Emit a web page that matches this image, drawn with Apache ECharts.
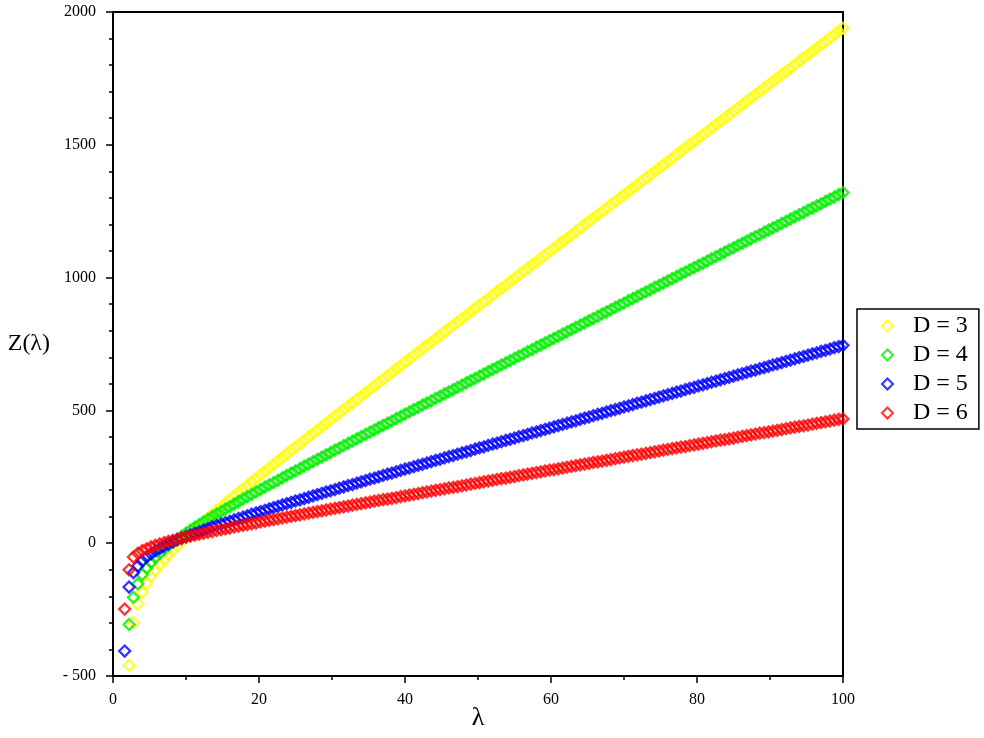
<!DOCTYPE html>
<html>
<head>
<meta charset="utf-8">
<script src="https://cdn.jsdelivr.net/npm/echarts@6/dist/echarts.min.js"></script>
<style>
  html, body { margin: 0; padding: 0; background: #fff; }
  #chart { width: 984px; height: 738px; }
</style>
</head>
<body>
<div id="chart"></div>
<script>
// lambda values (x)
var lambdas = [
  1.6,2.2,2.8,3.4,4,4.6,5.2,5.8,6.4,7,
  7.6,8.2,8.8,9.4,10,10.6,11.2,11.8,12.4,13,
  13.6,14.2,14.8,15.4,16,16.6,17.2,17.8,18.4,19,
  19.6,20.2,20.8,21.4,22,22.6,23.2,23.8,24.4,25,
  25.6,26.2,26.8,27.4,28,28.6,29.2,29.8,30.4,31,
  31.6,32.2,32.8,33.4,34,34.6,35.2,35.8,36.4,37,
  37.6,38.2,38.8,39.4,40,40.6,41.2,41.8,42.4,43,
  43.6,44.2,44.8,45.4,46,46.6,47.2,47.8,48.4,49,
  49.6,50.2,50.8,51.4,52,52.6,53.2,53.8,54.4,55,
  55.6,56.2,56.8,57.4,58,58.6,59.2,59.8,60.4,61,
  61.6,62.2,62.8,63.4,64,64.6,65.2,65.8,66.4,67,
  67.6,68.2,68.8,69.4,70,70.6,71.2,71.8,72.4,73,
  73.6,74.2,74.8,75.4,76,76.6,77.2,77.8,78.4,79,
  79.6,80.2,80.8,81.4,82,82.6,83.2,83.8,84.4,85,
  85.6,86.2,86.8,87.4,88,88.6,89.2,89.8,90.4,91,
  91.6,92.2,92.8,93.4,94,94.6,95.2,95.8,96.4,97,
  97.6,98.2,98.8,99.4,100
];

// Z(lambda) for D = 3
var zD3 = [
  null,-460,-299,-229,-184,-151,-125,-102,-81,-62,
  -44,-27,-10,6,21,37,51,66,80,95,
  109,123,136,150,164,177,191,204,217,231,
  244,257,270,283,296,310,323,336,349,362,
  374,387,400,413,426,439,452,465,477,490,
  503,516,528,541,554,567,579,592,605,618,
  630,643,656,668,681,694,707,719,732,745,
  757,770,782,795,808,820,833,846,858,871,
  884,896,909,921,934,947,959,972,985,997,
  1010,1022,1035,1048,1060,1073,1085,1098,1110,1123,
  1136,1148,1161,1173,1186,1199,1211,1224,1236,1249,
  1261,1274,1287,1299,1312,1324,1337,1349,1362,1375,
  1387,1400,1412,1425,1437,1450,1463,1475,1488,1500,
  1513,1525,1538,1550,1563,1576,1588,1601,1613,1626,
  1638,1651,1663,1676,1689,1701,1714,1726,1739,1751,
  1764,1776,1789,1801,1814,1827,1839,1852,1864,1877,
  1889,1902,1914,1927,1939
];

// D = 4
var zD4 = [
  null,-306,-204,-153,-118,-93,-72,-54,-38,-23,
  -9,3,15,27,38,49,60,70,80,90,
  100,110,119,129,138,147,157,166,175,184,
  193,202,211,220,228,237,246,255,264,272,
  281,290,298,307,316,324,333,341,350,358,
  367,376,384,393,401,410,418,427,435,444,
  452,460,469,477,486,494,503,511,520,528,
  536,545,553,562,570,578,587,595,604,612,
  620,629,637,646,654,662,671,679,687,696,
  704,712,721,729,738,746,754,763,771,779,
  788,796,804,813,821,829,838,846,854,863,
  871,879,888,896,904,913,921,929,938,946,
  954,963,971,979,988,996,1004,1013,1021,1029,
  1038,1046,1054,1062,1071,1079,1087,1096,1104,1112,
  1121,1129,1137,1146,1154,1162,1171,1179,1187,1195,
  1204,1212,1220,1229,1237,1245,1254,1262,1270,1278,
  1287,1295,1303,1312,1320
];

// D = 5
var zD5 = [
  -406,-165,-111,-86,-67,-52,-40,-29,-20,-11,
  -3,5,12,18,25,31,37,43,49,55,
  61,66,72,77,82,88,93,98,103,109,
  114,119,124,129,134,139,144,149,154,159,
  163,168,173,178,183,188,193,197,202,207,
  212,217,221,226,231,236,241,245,250,255,
  260,264,269,274,279,283,288,293,297,302,
  307,312,316,321,326,330,335,340,344,349,
  354,359,363,368,373,377,382,387,391,396,
  401,405,410,415,419,424,429,433,438,443,
  447,452,457,461,466,471,475,480,485,489,
  494,499,503,508,513,517,522,527,531,536,
  541,545,550,555,559,564,569,573,578,583,
  587,592,596,601,606,610,615,620,624,629,
  634,638,643,648,652,657,661,666,671,675,
  680,685,689,694,699,703,708,713,717,722,
  726,731,736,740,745
];

// D = 6
var zD6 = [
  -248,-100,-52,-38,-28,-21,-14,-8,-3,2,
  7,11,15,19,23,27,30,34,37,41,
  44,48,51,54,57,61,64,67,70,73,
  76,80,83,86,89,92,95,98,101,104,
  107,110,113,116,119,122,125,128,131,134,
  137,140,143,146,149,152,155,158,161,164,
  166,169,172,175,178,181,184,187,190,193,
  196,199,202,205,208,210,213,216,219,222,
  225,228,231,234,237,240,243,245,248,251,
  254,257,260,263,266,269,272,275,277,280,
  283,286,289,292,295,298,301,304,306,309,
  312,315,318,321,324,327,330,333,335,338,
  341,344,347,350,353,356,359,362,364,367,
  370,373,376,379,382,385,388,390,393,396,
  399,402,405,408,411,414,416,419,422,425,
  428,431,434,437,440,442,445,448,451,454,
  457,460,463,466,468
];

var seriesNames = ['D = 3', 'D = 4', 'D = 5', 'D = 6'];
var seriesColors = ['#ffff00', '#00ee00', '#0000ff', '#ff0000'];
var seriesValues = [zD3, zD4, zD5, zD6];

var serif = '"Liberation Serif", "Times New Roman", serif';

function pairs(values) {
  var out = [];
  for (var i = 0; i < lambdas.length; i++) {
    if (values[i] === null) continue;
    out.push([lambdas[i], values[i]]);
  }
  return out;
}

var chart = echarts.init(document.getElementById('chart'));

var series = seriesValues.map(function (vals, i) {
  return {
    name: seriesNames[i],
    type: 'scatter',
    symbol: 'diamond',
    symbolSize: 11,
    data: pairs(vals),
    itemStyle: {
      color: 'rgba(255,255,255,0)',
      borderColor: seriesColors[i],
      borderWidth: 2.3
    },
    emphasis: { disabled: true }
  };
});

chart.setOption({
  animation: false,
  backgroundColor: '#fff',
  grid: {
    left: 113,
    right: 141,
    top: 12,
    bottom: 62,
    outerBoundsMode: 'none',
    show: true,
    borderColor: '#000',
    borderWidth: 2
  },
  legend: {
    orient: 'vertical',
    left: 857,
    top: 309,
    padding: [5, 11, 4, 24],
    itemWidth: 11,
    itemHeight: 11,
    itemGap: 5,
    icon: 'diamond',
    itemStyle: { borderWidth: 2 },
    borderColor: '#000',
    borderWidth: 1.5,
    selectedMode: false,
    textStyle: {
      fontFamily: serif,
      fontSize: 24,
      lineHeight: 24,
      color: '#000',
      padding: [0, 0, 0, 15]
    },
    data: seriesNames
  },
  xAxis: {
    type: 'value',
    min: 0,
    max: 100,
    interval: 20,
    name: 'λ',
    nameLocation: 'middle',
    nameGap: 29,
    nameMoveOverlap: false,
    nameTextStyle: { fontFamily: serif, fontSize: 26, color: '#000' },
    axisLine: { onZero: false, lineStyle: { color: '#000', width: 2 } },
    axisTick: { length: 7, lineStyle: { color: '#000', width: 1.5 } },
    minorTick: { show: true, splitNumber: 2, length: 4, lineStyle: { color: '#000', width: 1.5 } },
    axisLabel: { margin: 16, fontFamily: serif, fontSize: 16, color: '#000' },
    splitLine: { show: false }
  },
  yAxis: {
    type: 'value',
    min: -500,
    max: 2000,
    interval: 500,
    name: 'Z(λ)',
    nameLocation: 'middle',
    nameRotate: 0,
    nameGap: 63,
    nameMoveOverlap: false,
    nameTextStyle: { fontFamily: serif, fontSize: 24, color: '#000' },
    axisLine: { onZero: false, lineStyle: { color: '#000', width: 2 } },
    axisTick: { length: 7, lineStyle: { color: '#000', width: 1.5 } },
    minorTick: { show: true, splitNumber: 5, length: 4, lineStyle: { color: '#000', width: 1.5 } },
    axisLabel: {
      margin: 17,
      fontFamily: serif,
      fontSize: 16,
      color: '#000',
      formatter: function (v) {
        return v < 0 ? '- ' + Math.abs(v) : String(v);
      }
    },
    splitLine: { show: false }
  },
  series: series
});
</script>
</body>
</html>
